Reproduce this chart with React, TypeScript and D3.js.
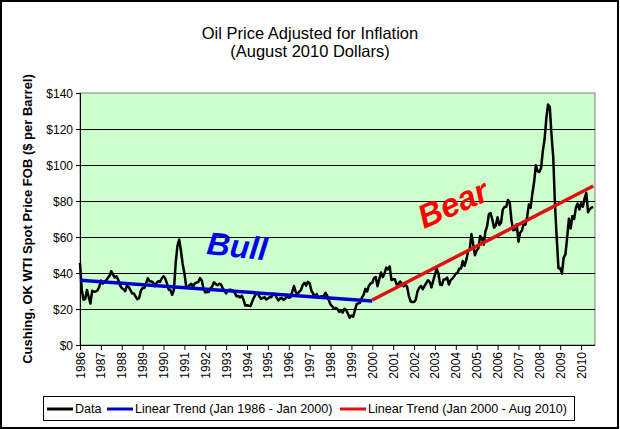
import React from 'react';
import * as d3 from 'd3';

// monthly WTI spot price, August 2010 dollars, Jan 1986 - Aug 2010
const prices1986_1993 = [
  45.6, 30.8, 25.1, 25.6, 30.6, 26.7, 23.0, 30.1, 29.6, 29.7, 30.3, 32.1,
  35.8, 34.1, 35.1, 35.9, 37.3, 38.5, 41.0, 39.0, 37.5, 38.1, 36.2, 33.2,
  31.6, 31.0, 29.9, 33.0, 32.1, 30.5, 28.6, 28.6, 26.8, 25.4, 26.1, 30.2,
  31.7, 31.6, 34.3, 37.1, 35.4, 35.3, 34.8, 32.7, 34.5, 35.4, 35.0, 37.1,
  38.2, 36.9, 34.1, 30.8, 30.4, 27.9, 30.8, 45.6, 55.0, 58.6, 52.5, 45.0,
  40.0, 32.8, 31.8, 33.3, 34.0, 32.3, 34.2, 34.7, 35.0, 37.2, 35.9, 31.2,
  29.2, 29.6, 29.4, 31.5, 32.6, 34.8, 33.9, 33.2, 34.0, 33.7, 31.6, 30.2,
  28.7, 30.3, 30.7, 30.6, 30.1, 28.8, 27.0, 27.2, 26.4, 27.4, 25.1, 21.9,
];
const prices1994_2001 = [
  22.1, 21.8, 21.6, 24.2, 26.4, 28.1, 29.0, 27.1, 25.7, 26.1, 26.6, 25.3,
  25.8, 26.6, 26.5, 28.5, 28.3, 26.4, 24.8, 25.8, 26.1, 25.0, 25.8, 27.3,
  26.2, 26.6, 29.7, 32.7, 29.4, 28.4, 29.6, 30.5, 33.3, 34.6, 33.0, 35.1,
  34.2, 30.2, 28.5, 26.8, 28.3, 26.2, 26.7, 27.1, 26.9, 29.0, 27.5, 24.9,
  22.4, 21.5, 20.2, 20.6, 20.0, 18.4, 19.0, 18.0, 20.1, 19.4, 17.4, 15.2,
  16.4, 15.7, 19.2, 22.7, 23.2, 23.5, 26.3, 27.9, 31.2, 29.7, 32.8, 34.2,
  34.6, 37.2, 37.8, 32.6, 36.5, 40.3, 37.7, 39.6, 43.0, 42.0, 43.6, 36.1,
  36.5, 36.5, 33.6, 33.9, 35.3, 34.0, 32.6, 33.7, 32.3, 27.3, 24.2, 23.9,
];
const prices2002_2010 = [
  23.9, 25.1, 29.8, 31.8, 32.8, 31.0, 32.7, 34.4, 36.0, 35.0, 32.0, 35.7,
  39.1, 42.5, 39.7, 33.4, 33.3, 36.4, 36.5, 37.4, 33.6, 36.0, 36.9, 38.1,
  39.7, 40.1, 42.5, 42.5, 46.6, 44.0, 47.1, 51.9, 53.1, 61.6, 56.0, 49.9,
  52.4, 53.8, 60.6, 59.2, 55.7, 63.0, 66.0, 72.7, 73.3, 69.6, 65.2, 66.4,
  70.9, 66.7, 67.9, 75.2, 76.7, 76.8, 80.6, 79.1, 69.1, 63.8, 64.0, 67.1,
  57.4, 62.4, 63.6, 67.4, 66.8, 71.1, 78.0, 76.2, 84.2, 90.4, 99.8, 96.6,
  96.1, 98.3, 107.7, 114.0, 125.7, 133.6, 132.4, 116.7, 104.3, 77.9, 59.5, 42.7,
  42.6, 39.7, 48.6, 50.3, 59.7, 70.1, 64.7, 71.6, 70.0, 76.2, 78.6, 75.3,
  78.7, 76.8, 81.5, 84.5, 73.8, 75.4, 76.4, 76.6,
];
const prices = [...prices1986_1993, ...prices1994_2001, ...prices2002_2010];

const yearLabels = [
  '1986', '1987', '1988', '1989', '1990', '1991', '1992', '1993', '1994',
  '1995', '1996', '1997', '1998', '1999', '2000', '2001', '2002', '2003',
  '2004', '2005', '2006', '2007', '2008', '2009', '2010',
];
const yTicks = [0, 20, 40, 60, 80, 100, 120, 140];

// trend end points: [month index, value]
const bullTrend: [number, number][] = [[0, 36.0], [168, 24.4]];
const bearTrend: [number, number][] = [[168, 25.0], [295, 88.3]];

const legendItems = [
  { label: 'Data', color: '#000000' },
  { label: 'Linear Trend (Jan 1986 - Jan 2000)', color: '#0000cc' },
  { label: 'Linear Trend (Jan 2000 - Aug 2010)', color: '#dd1111' },
];

const font = '"Liberation Sans", Arial, sans-serif';

const App: React.FC = () => {
  const width = 620;
  const height = 429;
  const plot = { left: 80, right: 595, top: 93, bottom: 345 };

  const x = d3.scaleLinear().domain([0, 296]).range([plot.left, plot.right]);
  const y = d3.scaleLinear().domain([0, 140]).range([plot.bottom, plot.top]);

  const dataLine = d3.line<number>()
    .x((_, i) => x(i))
    .y(d => y(d));
  const trendLine = d3.line<[number, number]>()
    .x(d => x(d[0]))
    .y(d => y(d[1]));

  const legendX = [47, 107, 340];

  return (
    <svg width={width} height={height} style={{ position: 'absolute', left: 0, top: 0 }}
      fontFamily={font}>
      <rect x={1} y={1} width={width - 3} height={height - 2} fill="#ffffff" stroke="#000000" strokeWidth={2} />

      {/* title */}
      <text x={310} y={39} textAnchor="middle" fontSize={16.5}>Oil Price Adjusted for Inflation</text>
      <text x={310} y={57} textAnchor="middle" fontSize={16.5}>(August 2010 Dollars)</text>

      {/* plot area */}
      <rect x={plot.left} y={plot.top} width={plot.right - plot.left} height={plot.bottom - plot.top}
        fill="#ccffcc" stroke="#808080" strokeWidth={1} />
      {yTicks.slice(1, -1).map(t => (
        <line key={t} x1={plot.left} x2={plot.right} y1={y(t) + 0.5} y2={y(t) + 0.5} stroke="#000000" strokeWidth={1} />
      ))}

      {/* y axis */}
      <line x1={plot.left + 0.5} x2={plot.left + 0.5} y1={plot.top} y2={plot.bottom} stroke="#000000" />
      {yTicks.map(t => (
        <g key={t}>
          <line x1={plot.left - 4} x2={plot.left} y1={y(t) + 0.5} y2={y(t) + 0.5} stroke="#000000" />
          <text x={plot.left - 7} y={y(t) + 4.5} textAnchor="end" fontSize={12}>{`$${t}`}</text>
        </g>
      ))}
      <text transform={`translate(32,${(plot.top + plot.bottom) / 2}) rotate(-90)`} textAnchor="middle"
        fontSize={13} fontWeight="bold">Cushing, OK WTI Spot Price FOB ($ per Barrel)</text>

      {/* x axis */}
      <line x1={plot.left} x2={plot.right} y1={plot.bottom + 0.5} y2={plot.bottom + 0.5} stroke="#000000" />
      {yearLabels.map((lab, i) => {
        const px = x(i * 12);
        return (
          <g key={lab}>
            <line x1={px + 0.5} x2={px + 0.5} y1={plot.bottom} y2={plot.bottom + 5} stroke="#000000" />
            <text transform={`translate(${px + 4.5},${plot.bottom + 7}) rotate(-90)`} textAnchor="end"
              fontSize={12}>{lab}</text>
          </g>
        );
      })}

      {/* series */}
      <path d={dataLine(prices) ?? ''} fill="none" stroke="#000000" strokeWidth={2.5} strokeLinejoin="round" />
      <path d={trendLine(bullTrend) ?? ''} fill="none" stroke="#0000cc" strokeWidth={3.5} />
      <path d={trendLine(bearTrend) ?? ''} fill="none" stroke="#dd1111" strokeWidth={3.5} />

      {/* annotations */}
      <text transform="translate(206,254) rotate(6)" fontSize={32} fontWeight="bold" fontStyle="italic"
        fill="#0000ee">Bull</text>
      <text transform="translate(424,229) rotate(-24)" fontSize={33} fontWeight="bold" fontStyle="italic"
        fill="#ff0000">Bear</text>

      {/* legend */}
      <rect x={43.5} y={396.5} width={531} height={24} fill="#ffffff" stroke="#000000" />
      {legendItems.map((item, i) => (
        <g key={item.label}>
          <line x1={legendX[i]} x2={legendX[i] + 26} y1={409} y2={409} stroke={item.color} strokeWidth={3} />
          <text x={legendX[i] + 28} y={413} fontSize={12.6}>{item.label}</text>
        </g>
      ))}
    </svg>
  );
};

export default App;
